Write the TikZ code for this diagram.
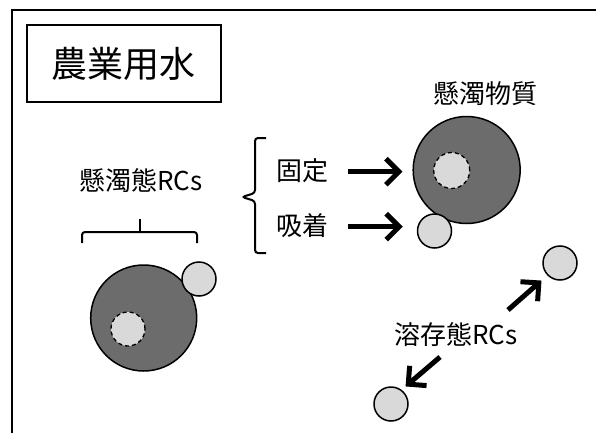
\documentclass[tikz,border=0pt]{standalone}
\usepackage{fontspec}
\setmainfont{Noto Sans CJK JP}
\usetikzlibrary{arrows.meta}
\definecolor{darkfill}{RGB}{108,108,108}
\definecolor{lightfill}{RGB}{217,217,217}
\tikzset{
  lbl/.style={inner sep=0pt, font=\fontsize{26}{30}\selectfont},
  ttl/.style={draw, line width=1.8pt, minimum width=194pt, minimum height=77pt, inner sep=0pt, font=\fontsize{36}{40}\selectfont},
  bigc/.style={circle, draw, line width=1.5pt, fill=darkfill, inner sep=0pt, minimum size=#1},
  smallc/.style={circle, draw, line width=1.5pt, fill=lightfill, inner sep=0pt, minimum size=34pt},
  corec/.style={circle, draw, line width=1.3pt, dash pattern=on 4pt off 3pt, fill=lightfill, inner sep=0pt, minimum size=#1},
  thickarr/.style={line width=5pt, -{Straight Barb[length=13pt,width=26pt]}},
  brk/.style={line width=2pt, rounded corners=3pt},
  frame/.style={line width=2.4pt}
}
\begin{document}
\begin{tikzpicture}[x=1pt,y=-1pt]
\useasboundingbox (0,0) rectangle (596,433);
% frame
\coordinate (fbl) at (12,433);
\coordinate (ftl) at (12,10);
\coordinate (ftr) at (596,10);
\draw[frame] (fbl) -- (ftl) -- (ftr);
% title
\node[ttl] (title) at (123.7,63.5) {\raisebox{-2pt}{農業用水}};
% right cluster
\node[lbl] (ss) at (485,93.5) {懸濁物質};
\node[bigc=107pt] (bigR) at (466.7,170) {};
\node[corec=36pt] (coreR) at (451.7,170.5) {};
\node[smallc] (adsR) at (434.5,231) {};
% left cluster
\node[lbl] (rcs) at (141,180.5) {懸濁態RCs};
\node[bigc=106pt] (bigL) at (143.7,318) {};
\node[smallc] (adsL) at (199,279) {};
\node[corec=34pt] (coreL) at (128,329) {};
% bottom bracket under label
\coordinate (bl1) at (82,243);
\coordinate (bl2) at (82,232);
\coordinate (bl3) at (197,232);
\coordinate (bl4) at (197,243);
\coordinate (bm1) at (140,232);
\coordinate (bm2) at (140,219);
\draw[brk] (bl1) -- (bl2) -- (bl3) -- (bl4);
\draw[line width=2pt] (bm1) -- (bm2);
% vertical bracket
\coordinate (vb1) at (266,138);
\coordinate (vb2) at (255,138);
\coordinate (vb3) at (255,193);
\coordinate (vb4) at (242,197);
\coordinate (vb5) at (255,201);
\coordinate (vb6) at (255,253);
\coordinate (vb7) at (266,253);
\draw[brk] (vb1) -- (vb2) -- (vb3) -- (vb4) -- (vb5) -- (vb6) -- (vb7);
% process labels and arrows
\node[lbl] (kotei) at (302,171) {固定};
\node[lbl] (kyuchaku) at (302,226) {吸着};
\draw[thickarr] ([xshift=20pt,yshift=-0.7pt]kotei.east) -- ([xshift=-10pt,yshift=-1.7pt]bigR.west);
\draw[thickarr] ([xshift=20pt,yshift=-0.7pt]kyuchaku.east) -- ([xshift=-14pt,yshift=4.3pt]adsR.west);
% dissolved
\node[lbl] (dis) at (456,335) {溶存態RCs};
\node[smallc] (d1) at (560,263) {};
\node[smallc] (d2) at (391,404) {};
\coordinate (a1s) at (508,310);
\coordinate (a2s) at (440,357);
\draw[thickarr] (a1s) -- ([shift={(-6pt,-5pt)}]d1.south west);
\draw[thickarr] (a2s) -- ([shift={(2pt,5pt)}]d2.north east);
\end{tikzpicture}
\end{document}
